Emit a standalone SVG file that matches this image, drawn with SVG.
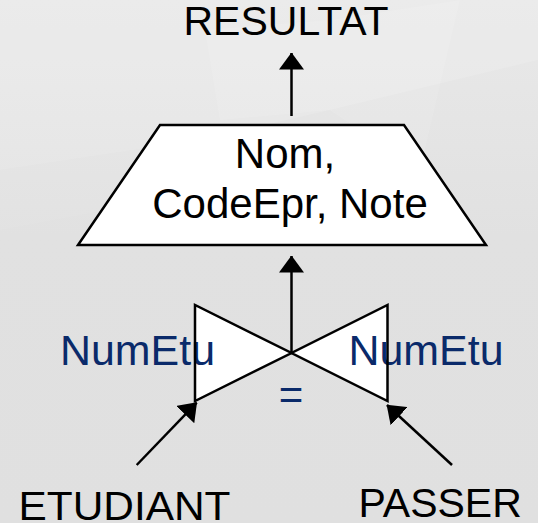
<svg xmlns="http://www.w3.org/2000/svg" width="538" height="523" viewBox="0 0 538 523">
<defs>
<marker id="ah" markerUnits="userSpaceOnUse" markerWidth="17" markerHeight="25" viewBox="0 0 17 25" refX="16.5" refY="12.5" orient="auto">
<path d="M0,0 L17,12.5 L0,25 z" fill="#000"/>
</marker>
<linearGradient id="bg" x1="0" y1="0" x2="0" y2="1">
<stop offset="0" stop-color="#e9e9e9"/>
<stop offset="0.45" stop-color="#e1e1e1"/>
<stop offset="1" stop-color="#e0e0e0"/>
</linearGradient>
</defs>
<style>
.t{font-family:"Liberation Sans",Arial,sans-serif;font-size:41px;fill:#000}
.b{font-family:"Liberation Sans",Arial,sans-serif;font-size:42px;fill:#0a2a6a}
.shape{fill:#fff;stroke:#000;stroke-width:2.5;stroke-linejoin:miter}
.edge{stroke:#000;stroke-width:2.5;fill:none;marker-end:url(#ah)}
</style>
<rect width="538" height="523" fill="url(#bg)"/>
<g id="background-facets" fill="#fff">
<polygon points="0,0 538,0 538,60 330,110 200,140 0,170" opacity="0.12"/>
<polygon points="205,30 330,20 330,110 220,120" opacity="0.12"/>
<polygon points="330,20 460,0 420,170 330,110" opacity="0.1"/>
<polygon points="0,170 200,140 160,200 0,230" opacity="0.06"/>
</g>
<g id="connectors">
<line class="edge" x1="291.5" y1="116" x2="291.5" y2="53"/>
<line class="edge" x1="291.5" y1="353" x2="291.5" y2="256"/>
<line class="edge" x1="136.7" y1="465" x2="196.7" y2="402.7"/>
<line class="edge" x1="452" y1="465" x2="387" y2="405"/>
</g>
<g id="resultat">
<text class="t" x="183.5" y="35">RESULTAT</text>
</g>
<g id="projection">
<polygon class="shape" points="160,125 404,125 486,245 78,245"/>
<text class="t" style="font-size:42px" x="285" y="168" text-anchor="middle">Nom,</text>
<text class="t" style="font-size:42px" x="290" y="218" text-anchor="middle">CodeEpr, Note</text>
</g>
<g id="join">
<polygon points="195,305 195,401 291.5,353" fill="#fff"/>
<polygon points="387.5,305 387.5,401 291.5,353" fill="#fff"/>
<text class="b" x="60" y="365" textLength="155" lengthAdjust="spacingAndGlyphs">NumEtu</text>
<text class="b" x="348.5" y="365" textLength="155" lengthAdjust="spacingAndGlyphs">NumEtu</text>
<text class="b" x="291" y="409" text-anchor="middle">=</text>
<polygon points="195,305 195,401 291.5,353" fill="none" stroke="#000" stroke-width="2.5"/>
<polygon points="387.5,305 387.5,401 291.5,353" fill="none" stroke="#000" stroke-width="2.5"/>
</g>
<g id="etudiant">
<text class="t" x="18.5" y="520" textLength="212" lengthAdjust="spacingAndGlyphs">ETUDIANT</text>
</g>
<g id="passer">
<text class="t" x="358.5" y="517">PASSER</text>
</g>
</svg>
